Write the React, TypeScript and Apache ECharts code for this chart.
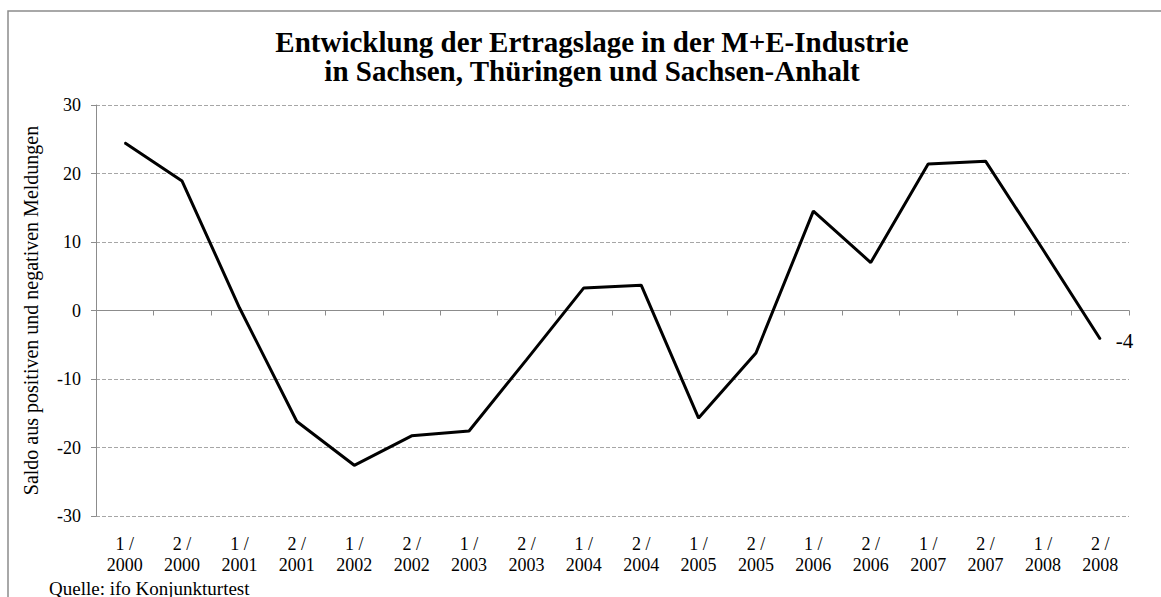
import React, { useEffect, useRef } from "react";
import * as echarts from "echarts";

const categories = [
  "1 /\n2000", "2 /\n2000", "1 /\n2001", "2 /\n2001", "1 /\n2002", "2 /\n2002",
  "1 /\n2003", "2 /\n2003", "1 /\n2004", "2 /\n2004", "1 /\n2005", "2 /\n2005",
  "1 /\n2006", "2 /\n2006", "1 /\n2007", "2 /\n2007", "1 /\n2008", "2 /\n2008",
];
const saldo = [24.5, 18.9, 0.4, -16.2, -22.6, -18.3, -17.6, -7.2, 3.3, 3.7, -15.7, -6.2, 14.5, 7.0, 21.4, 21.8, 8.9, -4.2];
const lastLabel = "-4";
const yTicks = { min: -30, max: 30, interval: 10 };
const titleText = "Entwicklung der Ertragslage in der M+E-Industrie\nin Sachsen, Thüringen und Sachsen-Anhalt";
const yName = "Saldo aus positiven und negativen Meldungen";
const sourceText = "Quelle: ifo Konjunkturtest";

const FONT = '"Liberation Serif", "Times New Roman", serif';

export default function App() {
  const ref = useRef<HTMLDivElement>(null);
  useEffect(() => {
    if (!ref.current) return;
    const chart = echarts.init(ref.current, null, { renderer: "svg" });
    const data = saldo.map((v, i) =>
      i === saldo.length - 1
        ? {
            value: v,
            label: {
              show: true,
              position: "right",
              distance: 15,
              formatter: lastLabel,
              fontFamily: FONT,
              fontSize: 21,
              color: "#000",
              offset: [0, 2],
            },
          }
        : v
    );
    chart.setOption({
      animation: false,
      backgroundColor: "#fff",
      textStyle: { fontFamily: FONT },
      title: {
        text: titleText,
        left: 587,
        top: 22,
        textAlign: "center",
        textStyle: {
          fontFamily: FONT,
          fontSize: 29,
          fontWeight: "bold",
          color: "#000",
          lineHeight: 29,
        },
      },
      graphic: [
        {
          type: "rect",
          shape: { x: 8, y: 11, width: 1200, height: 700 },
          style: { fill: "none", stroke: "#8c8c8c", lineWidth: 1.5 },
          silent: true,
          z: -1,
        },
        {
          type: "text",
          x: 49,
          y: 588,
          style: {
            text: sourceText,
            font: `19px ${FONT}`,
            fill: "#000",
            textVerticalAlign: "middle",
          },
        },
      ],
      grid: { left: 96, right: 32, top: 105, bottom: 81 },
      xAxis: [
        {
          type: "category",
          data: categories,
          boundaryGap: true,
          position: "bottom",
          axisLine: { show: false, onZero: false },
          axisTick: { show: false },
          axisLabel: {
            interval: 0,
            fontFamily: FONT,
            fontSize: 18,
            lineHeight: 21,
            color: "#000",
            margin: 17,
          },
          splitLine: { show: false },
        },
        {
          type: "category",
          data: categories,
          boundaryGap: true,
          position: "bottom",
          axisLine: { show: true, onZero: true, onZeroAxisIndex: 0, lineStyle: { color: "#8c8c8c", width: 1 } },
          axisTick: { show: true, length: 5, interval: 0, lineStyle: { color: "#8c8c8c" } },
          axisLabel: { show: false },
          splitLine: { show: false },
        },
      ],
      yAxis: {
        type: "value",
        min: yTicks.min,
        max: yTicks.max,
        interval: yTicks.interval,
        name: yName,
        nameLocation: "middle",
        nameGap: 55,
        nameRotate: 90,
        nameTextStyle: { fontFamily: FONT, fontSize: 20, color: "#000" },
        axisLine: { show: true, lineStyle: { color: "#8c8c8c", width: 1 } },
        axisTick: { show: true, length: 5, lineStyle: { color: "#8c8c8c" } },
        axisLabel: { fontFamily: FONT, fontSize: 18, color: "#000", margin: 15 },
        splitLine: {
          show: true,
          lineStyle: { color: "#a6a6a6", type: [4, 2], width: 1 },
        },
      },
      series: [
        {
          type: "line",
          data,
          xAxisIndex: 0,
          symbol: "circle",
          symbolSize: 1,
          showSymbol: true,
          lineStyle: { color: "#000", width: 3 },
          itemStyle: { color: "#000" },
        },
      ],
    });
    return () => chart.dispose();
  }, []);
  return (
    <div
      ref={ref}
      style={{ position: "absolute", left: 0, top: 0, width: 1161, height: 597 }}
    />
  );
}
